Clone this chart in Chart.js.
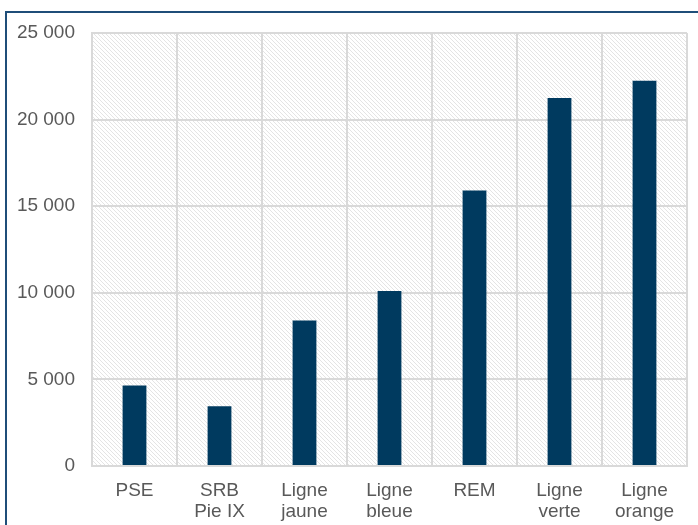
<!DOCTYPE html>
<html>
<head>
<meta charset="utf-8">
<script src="https://cdn.jsdelivr.net/npm/chart.js@4/dist/chart.umd.min.js"></script>
<style>
  html, body { margin: 0; padding: 0; background: #fff; }
  #c { display: block; }
</style>
</head>
<body>
<canvas id="c" width="698" height="525"></canvas>
<script>
// data
const categories = [['PSE'], ['SRB', 'Pie IX'], ['Ligne', 'jaune'], ['Ligne', 'bleue'], ['REM'], ['Ligne', 'verte'], ['Ligne', 'orange']];
const values = [4650, 3450, 8400, 10100, 15900, 21250, 22250];
const yMax = 25000;
const yStep = 5000;

// light diagonal hatch for the plot area
function makeHatch() {
    const p = document.createElement('canvas');
    p.width = 4; p.height = 4;
    const g = p.getContext('2d');
    g.fillStyle = '#ffffff';
    g.fillRect(0, 0, 4, 4);
    g.strokeStyle = '#e4e4e4';
    g.lineWidth = 1;
    g.beginPath();
    g.moveTo(-1, -1); g.lineTo(5, 5);
    g.moveTo(-1, 3); g.lineTo(1, 5);
    g.moveTo(3, -1); g.lineTo(5, 1);
    g.stroke();
    return g.createPattern(p, 'repeat');
}

const frame = {
    id: 'frame',
    beforeDraw(chart) {
        const ctx = chart.ctx;
        const a = chart.chartArea;
        ctx.save();
        ctx.fillStyle = makeHatch();
        ctx.fillRect(a.left, a.top, a.right - a.left, a.bottom - a.top);
        // outer box (only top and left visible in the crop)
        ctx.strokeStyle = '#1f4e79';
        ctx.lineWidth = 2;
        ctx.beginPath();
        ctx.moveTo(6, 525);
        ctx.lineTo(6, 12);
        ctx.lineTo(698, 12);
        ctx.stroke();
        ctx.restore();
    }
};

new Chart(document.getElementById('c'), {
    type: 'bar',
    data: {
        labels: categories,
        datasets: [{
            data: values,
            backgroundColor: '#003a5f',
            barPercentage: 0.28,
            categoryPercentage: 1
        }]
    },
    options: {
        responsive: false,
        animation: false,
        layout: { padding: { top: 33, right: 11, left: 0, bottom: 0 } },
        plugins: {
            legend: { display: false },
            tooltip: { enabled: false }
        },
        scales: {
            x: {
                grid: { color: '#d9d9d9', lineWidth: 2, drawTicks: false },
                border: { color: '#d9d9d9', width: 2 },
                ticks: {
                    color: '#595959',
                    padding: 15,
                    maxRotation: 0,
                    font: { family: 'Liberation Sans', size: 19, lineHeight: 1.08 }
                },
                afterFit(s) { s.height = 59; }
            },
            y: {
                min: 0,
                max: yMax,
                grid: { color: '#d9d9d9', lineWidth: 2, drawTicks: false },
                border: { color: '#d9d9d9', width: 2 },
                ticks: {
                    stepSize: yStep,
                    color: '#595959',
                    padding: 17,
                    font: { family: 'Liberation Sans', size: 19 },
                    callback: v => v.toLocaleString('en-US').replace(/,/g, ' ')
                },
                afterFit(s) { s.width = 92; }
            }
        }
    },
    plugins: [frame]
});
</script>
</body>
</html>
